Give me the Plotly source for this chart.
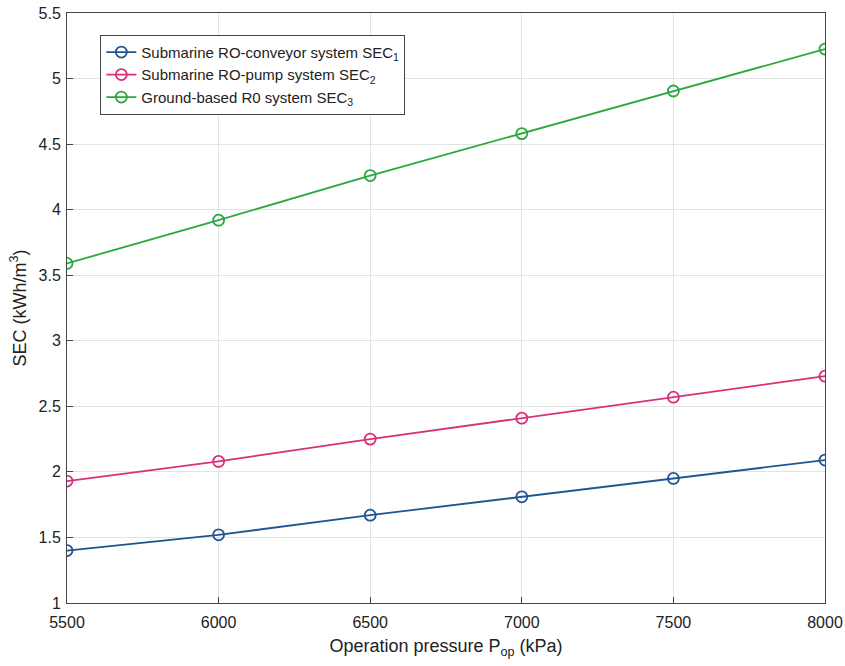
import plotly.graph_objects as go

# Operation pressure (kPa)
pressure = [5500, 6000, 6500, 7000, 7500, 8000]

# Specific energy consumption (kWh/m^3)
sec_conveyor = [1.40, 1.52, 1.67, 1.81, 1.95, 2.09]
sec_pump = [1.93, 2.08, 2.25, 2.41, 2.57, 2.73]
sec_ground = [3.59, 3.92, 4.26, 4.58, 4.905, 5.225]

names = [
    "Submarine RO-conveyor system SEC<sub>1</sub>",
    "Submarine RO-pump system SEC<sub>2</sub>",
    "Ground-based R0 system SEC<sub>3</sub>",
]
colors = ["#1f5590", "#d6317a", "#2aa83e"]

fig = go.Figure()
for ys, name, c in zip([sec_conveyor, sec_pump, sec_ground], names, colors):
    fig.add_trace(go.Scatter(
        x=pressure, y=ys, name=name, mode="lines+markers",
        line=dict(color=c, width=1.8),
        marker=dict(symbol="circle-open", size=11, color=c, line=dict(width=1.8, color=c)),
    ))

axis_common = dict(
    showline=True, linecolor="#444", linewidth=1, mirror=True,
    ticks="inside", ticklen=6, tickcolor="#444",
    showgrid=True, gridcolor="#e3e3e3", gridwidth=1,
    zeroline=False, automargin=False,
    tickfont=dict(family="Liberation Sans, Arial", size=16, color="#222"),
)

fig.update_layout(
    width=845, height=666,
    margin=dict(l=67, r=20, t=13, b=63),
    paper_bgcolor="white", plot_bgcolor="white",
    font=dict(family="Liberation Sans, Arial", color="#222"),
    xaxis=dict(
        range=[5500, 8000], tickvals=[5500, 6000, 6500, 7000, 7500, 8000],
        ticklabelstandoff=5,
        title=dict(text="Operation pressure P<sub>op</sub> (kPa)", font=dict(size=18), standoff=9),
        **axis_common,
    ),
    yaxis=dict(
        range=[1, 5.5],
        tickvals=[1, 1.5, 2, 2.5, 3, 3.5, 4, 4.5, 5, 5.5],
        ticktext=["1", "1.5", "2", "2.5", "3", "3.5", "4", "4.5", "5", "5.5"],
        ticklabelstandoff=2,
        title=dict(text="SEC (kWh/m<sup>3</sup>)", font=dict(size=18), standoff=7),
        **axis_common,
    ),
    legend=dict(
        x=0.044, y=0.963, xanchor="left", yanchor="top",
        bgcolor="white", bordercolor="#444", borderwidth=1,
        font=dict(size=15, color="#222"), tracegroupgap=0,
    ),
)

fig.write_html("out.html")
